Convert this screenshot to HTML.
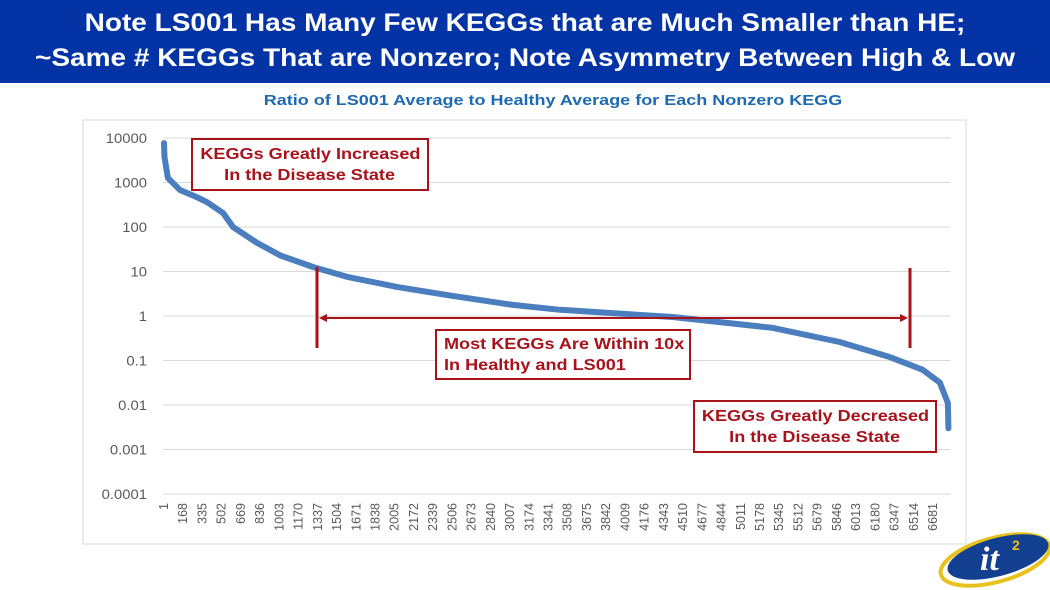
<!DOCTYPE html>
<html><head><meta charset="utf-8"><style>
body{margin:0;width:1050px;height:590px;background:#fff;overflow:hidden;font-family:"Liberation Sans",sans-serif;position:relative}
#bar{position:absolute;left:0;top:0;width:1050px;height:83px;background:#0433a6;}
#bar div{position:absolute;left:0;width:1050px;top:6px;color:#fff;font-weight:bold;font-size:25px;text-align:center;line-height:35px;transform:scaleX(1.12);transform-origin:525px 0}
#sub{position:absolute;left:0;width:1106px;top:92px;text-align:center;color:#1e6ab0;font-weight:bold;font-size:15px;transform:scaleX(1.2);transform-origin:553px 0}
.box{position:absolute;border:2px solid #a8121a;color:#a8121a;font-weight:bold;font-size:16px;line-height:21px;background:#fff;box-sizing:border-box}
.box span{display:inline-block;transform:scaleX(1.13)}
</style></head><body>
<div id="bar"><div>Note LS001 Has Many Few KEGGs that are Much Smaller than HE;<br>~Same # KEGGs That are Nonzero; Note Asymmetry Between High &amp; Low</div></div>
<div id="sub">Ratio of LS001 Average to Healthy Average for Each Nonzero KEGG</div>
<svg id="chart" width="1050" height="590" style="position:absolute;left:0;top:0">
<rect x="83" y="120" width="883" height="424" fill="none" stroke="#d9d9d9"/>
<g id="grid"></g><g id="yl"></g><g id="xl"></g><g id="series"></g>
<g stroke="#a8121a" stroke-width="3" fill="#a8121a">
<line x1="317" y1="267" x2="317" y2="348"/><line x1="910" y1="268" x2="910" y2="348"/>
<line x1="322" y1="318" x2="905" y2="318" stroke-width="2"/>
<polygon points="319,318 327,314 327,322" stroke="none"/><polygon points="908,318 900,314 900,322" stroke="none"/>
</g>
<g>
<ellipse cx="995" cy="560" rx="56" ry="22" fill="none" stroke="#e8c21a" stroke-width="4" transform="rotate(-15 995 560)"/>
<ellipse cx="998" cy="557" rx="52" ry="19" fill="#123f8f" transform="rotate(-15 998 557)"/>
<text x="980" y="570" fill="#fff" font-size="34" font-style="italic" font-weight="bold" font-family="Liberation Serif,serif">it</text>
<text x="1012" y="550" fill="#e8c21a" font-size="14" font-weight="bold">2</text>
</g>
</svg>
<div class="box" style="left:191px;top:138px;width:238px;height:53px;text-align:center;padding-top:4px"><span>KEGGs Greatly Increased</span><br><span>In the Disease State</span></div>
<div class="box" style="left:435px;top:329px;width:256px;height:51px;padding:3px 0 0 7px"><span style="transform-origin:0 0">Most KEGGs Are Within 10x</span><br><span style="transform-origin:0 0">In Healthy and LS001</span></div>
<div class="box" style="left:693px;top:400px;width:244px;height:53px;text-align:center;padding-top:4px"><span>KEGGs Greatly Decreased</span><br><span>In the Disease State</span></div>
<script>
const yTicks=["10000","1000","100","10","1","0.1","0.01","0.001","0.0001"];
const yLogs=[4,3,2,1,0,-1,-2,-3,-4];
const xTicks=[1,168,335,502,669,836,1003,1170,1337,1504,1671,1838,2005,2172,2339,2506,2673,2840,3007,3174,3341,3508,3675,3842,4009,4176,4343,4510,4677,4844,5011,5178,5345,5512,5679,5846,6013,6180,6347,6514,6681];
const keggIndex=[1,5,35,140,285,375,515,600,810,1010,1295,1590,2025,2460,3030,3440,4420,5290,5870,6305,6590,6740,6810,6815];
const ratioValue=[7700,3700,1260,680,470,360,205,100,44,23,12.6,7.6,4.5,2.95,1.78,1.38,0.95,0.54,0.26,0.12,0.062,0.032,0.011,0.003];
const NS="http://www.w3.org/2000/svg";
const X=i=>164+(i-1)*(933-164)/6680;
const Y=v=>316-Math.log10(v)*44.5;
const YL=l=>316-l*44.5;
function mk(t,a,p){const e=document.createElementNS(NS,t);for(const k in a)e.setAttribute(k,a[k]);p.appendChild(e);return e;}
const grid=document.getElementById('grid'),yl=document.getElementById('yl'),xl=document.getElementById('xl'),ser=document.getElementById('series');
yLogs.forEach((l,k)=>{
 const g=mk('line',{x1:163,x2:950,y1:YL(l),y2:YL(l),stroke:'#d9d9d9'},grid);
 
 
 const t=mk('text',{x:0,y:0,'text-anchor':'end','font-size':13.5,fill:'#595959',transform:`translate(147,${YL(l)+5}) scale(1.1,1)`},yl);
 
 
 t.textContent=yTicks[k];
});
xTicks.forEach(v=>{
 const x=X(v);
 const t=mk('text',{x:0,y:0,'text-anchor':'end','font-size':12.5,fill:'#595959',transform:`translate(${x+4},503) rotate(-90)`},xl);
 
 
 t.textContent=v;
});
const pts=keggIndex.map((i,k)=>X(i).toFixed(1)+','+Y(ratioValue[k]).toFixed(1)).join(' ');
const pl=mk('polyline',{points:pts,fill:'none',stroke:'#4a7ebf','stroke-width':6,'stroke-linejoin':'round','stroke-linecap':'round'},ser);


</script>
</body></html>
